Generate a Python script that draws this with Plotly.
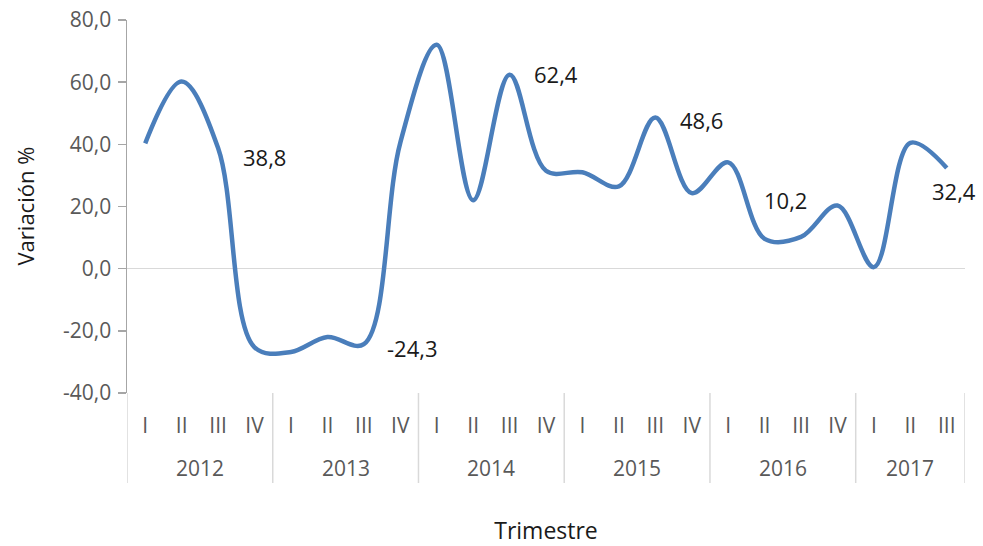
import plotly.graph_objects as go

year_names = ["2012", "2013", "2014", "2015", "2016", "2017"]
quarters_per_year = [4, 4, 4, 4, 4, 3]
quarters = ["I", "II", "III", "IV"]*5 + ["I", "II", "III"]
values = [40.3, 60.2, 38.8, -25.3,
          -26.8, -22.0, -24.3, 40.5,
          72.0, 22.0, 62.4, 31.5,
          31.0, 26.5, 48.6, 24.3,
          34.2, 9.6, 10.2, 20.3,
          0.5, 40.5, 32.4]
y_ticks = [-40, -20, 0, 20, 40, 60, 80]
y_tick_text = ["-40,0", "-20,0", "0,0", "20,0", "40,0", "60,0", "80,0"]
label_idx = [2, 6, 10, 14, 18, 22]
label_shift = [(46, -9), (49, -4), (46, 1), (46, -2), (-16, 37), (7, -23)]

FONT = "Open Sans"
idx = list(range(len(values)))

W, H = 983, 546
ML, MR, MT, MB = 127, 18, 20, 153

fig = go.Figure()
fig.add_trace(go.Scatter(
    x=idx, y=values, mode="lines",
    line=dict(color="#4A7EBB", width=4.5, shape="spline", smoothing=1.0),
    hoverinfo="skip", showlegend=False,
))

for i, (dx, dy) in zip(label_idx, label_shift):
    fig.add_annotation(
        x=i, y=values[i], xref="x", yref="y",
        text=f"{values[i]:.1f}".replace(".", ","),
        showarrow=False, xshift=dx, yshift=dy,
        font=dict(family=FONT, size=22, color="#1a1a1a"),
    )

# year group labels and dividers
start = -0.5
bounds = [start]
for name, n in zip(year_names, quarters_per_year):
    mid = start + n / 2
    fig.add_annotation(
        x=mid, y=0, xref="x", yref="paper", yanchor="middle",
        text=name, showarrow=False, yshift=-75,
        font=dict(family=FONT, size=21, color="#595959"),
    )
    start += n
    bounds.append(start)

plot_h = H - MT - MB
for b in bounds:
    fig.add_shape(
        type="line", xref="x", yref="paper",
        x0=b, x1=b, y0=0, y1=-90 / plot_h,
        line=dict(color="#d9d9d9", width=1.5),
    )

# y-axis title
fig.add_annotation(
    x=0, y=0.5, xref="paper", yref="paper", xshift=-(ML - 24),
    text="Variación %", textangle=-90, showarrow=False,
    xanchor="center", yanchor="middle",
    font=dict(family=FONT, size=22, color="#1a1a1a"),
)

fig.update_layout(
    width=W, height=H,
    margin=dict(l=ML, r=MR, t=MT, b=MB),
    paper_bgcolor="white", plot_bgcolor="white",
    font=dict(family=FONT, color="#595959", size=21),
)
fig.update_yaxes(
    range=[-40, 80], tickmode="array", tickvals=y_ticks, ticktext=y_tick_text,
    automargin=False, ticklabeloverflow="allow",
    showgrid=False, zeroline=True, zerolinecolor="#d9d9d9", zerolinewidth=1.5,
    showline=True, linecolor="#a6a6a6", linewidth=1.5,
    ticks="outside", ticklen=8, tickcolor="#a6a6a6", tickwidth=1.5,
    ticklabelstandoff=2,
    tickfont=dict(family=FONT, size=21, color="#595959"),
)
fig.update_xaxes(
    range=[-0.5, len(values) - 0.5], automargin=False,
    tickmode="array", tickvals=idx, ticktext=quarters,
    showgrid=False, showline=False, zeroline=False, ticks="",
    ticklabelstandoff=18,
    tickfont=dict(family=FONT, size=21, color="#595959"),
    title=dict(text="Trimestre", font=dict(family=FONT, size=23, color="#1a1a1a"), standoff=89),
)

fig.write_html("out.html", config={"displayModeBar": False, "staticPlot": True},
               post_script="document.body.style.margin='0';")
